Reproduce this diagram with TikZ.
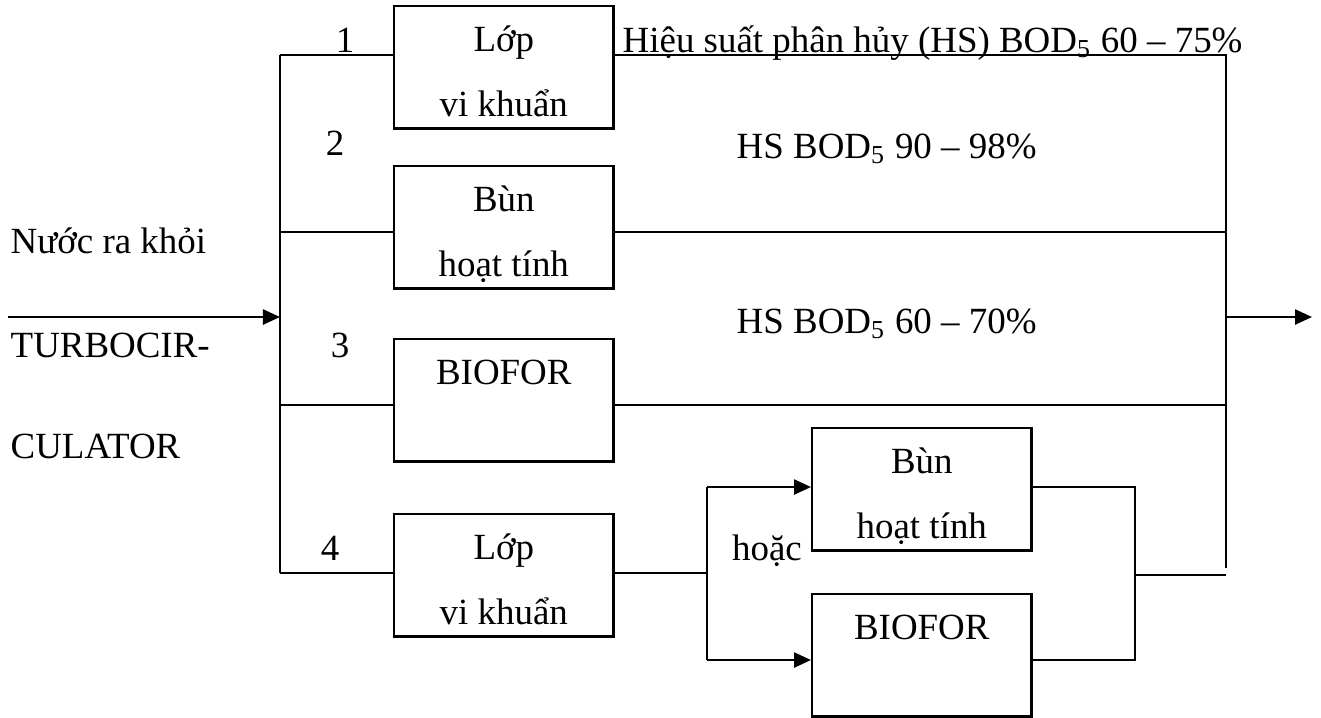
\documentclass[tikz,border=0pt]{standalone}
\usepackage{fontspec}
\setmainfont{Liberation Serif}
\usetikzlibrary{arrows.meta}

\tikzset{
	stagebox/.style={draw, line width=0.7pt, inner sep=0pt, anchor=north west,
		minimum width=2.19cm, align=center, text height=1.10cm, text depth=0.12cm,
		font=\fontsize{10.5}{18.4}\selectfont},
	flow/.style={line width=0.7pt},
	flowarrow/.style={flow, -{Triangle[length=0.17cm,width=0.15cm]}},
	lbl/.style={anchor=base, inner sep=0pt, font=\fontsize{10.5}{12}\selectfont},
}

\begin{document}
\begin{tikzpicture}[x=0.01cm, y=-0.01cm]
	\useasboundingbox (0,0) rectangle (1321,717);
	% the stages
	\node[stagebox] (lop1) at (393,5) {Lớp\\vi khuẩn};
	\node[stagebox] (bun2) at (393,165) {Bùn\\hoạt tính};
	\node[stagebox] (bio3) at (393,338) {BIOFOR\\~};
	\node[stagebox] (lop4) at (393,513) {Lớp\\vi khuẩn};
	\node[stagebox] (bun5) at (811,427) {Bùn\\hoạt tính};
	\node[stagebox] (bio6) at (811,593) {BIOFOR\\~};
	% bus points
	\coordinate (in) at (8,317);
	\coordinate (out) at (1312,317);
	\coordinate (b1) at (280,55);
	\coordinate (b2) at (280,232);
	\coordinate (b3) at (280,405);
	\coordinate (b4) at (280,573);
	\coordinate (r1) at (1226,55);
	\coordinate (r4) at (1226,568);
	\coordinate (up) at (707,487);
	\coordinate (down) at (707,660);
	\coordinate (join) at (1135,575);
	% inlet and left bus
	\draw[flowarrow] (in) -- (in -| b1);
	\draw[flow] (b1) -- (b4);
	% lines 1 to 3
	\draw[flow] (b1) -- (b1 -| lop1.west);
	\draw[flow] (lop1.east |- b1) -- (r1) -- (r4);
	\draw[flow] (b2) -- (b2 -| bun2.west);
	\draw[flow] (bun2.east |- b2) -- (b2 -| r1);
	\draw[flow] (b3) -- (b3 -| bio3.west);
	\draw[flow] (bio3.east |- b3) -- (b3 -| r1);
	% line 4 with its two branches
	\draw[flow] (b4) -- (b4 -| lop4.west);
	\draw[flow] (lop4.east |- b4) -- (b4 -| up);
	\draw[flow] (up) -- (down);
	\draw[flowarrow] (up) -- (up -| bun5.west);
	\draw[flowarrow] (down) -- (down -| bio6.west);
	\draw[flow] (bun5.east |- up) -- (up -| join) -- (down -| join) -- (bio6.east |- down);
	\draw[flow] (join) -- (join -| r1);
	% outlet
	\draw[flowarrow] (r1 |- out) -- (out);
	% texts
	\node[lbl, anchor=base west] (hs1) at (622,52) {Hiệu suất phân hủy (HS) BOD\textsubscript{5} 60 – 75\%};
	\node[lbl, anchor=base west] (hs2) at (736,158) {HS BOD\textsubscript{5} 90 – 98\%};
	\node[lbl, anchor=base west] (hs3) at (736,333) {HS BOD\textsubscript{5} 60 – 70\%};
	\node[lbl, anchor=base west] (nuoc) at (10,253) {Nước ra khỏi};
	\node[lbl, anchor=base west] (turbo) at (10,357) {TURBOCIR-};
	\node[lbl, anchor=base west] (culat) at (10,458) {CULATOR};
	\node[lbl] (n1) at (345,52) {1};
	\node[lbl] (n2) at (335,155) {2};
	\node[lbl] (n3) at (340,357) {3};
	\node[lbl] (n4) at (330,560) {4};
	\node[lbl] (hoac) at (767,560) {hoặc};
\end{tikzpicture}
\end{document}
